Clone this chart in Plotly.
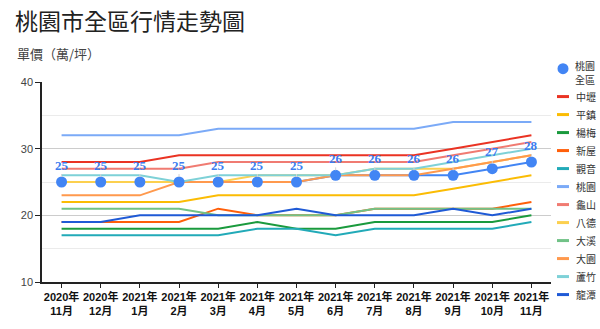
import plotly.graph_objects as go

months = ["2020年<br>11月", "2020年<br>12月", "2021年<br>1月", "2021年<br>2月", "2021年<br>3月",
          "2021年<br>4月", "2021年<br>5月", "2021年<br>6月", "2021年<br>7月", "2021年<br>8月",
          "2021年<br>9月", "2021年<br>10月", "2021年<br>11月"]

total_name = "桃園全區"
total_legend_lines = ["桃園", "全區"]
total_vals = [25, 25, 25, 25, 25, 25, 25, 26, 26, 26, 26, 27, 28]

zhongli = [28, 28, 28, 29, 29, 29, 29, 29, 29, 29, 30, 31, 32]
pingzhen = [22, 22, 22, 22, 23, 23, 23, 23, 23, 23, 24, 25, 26]
yangmei = [18, 18, 18, 18, 18, 19, 18, 18, 19, 19, 19, 19, 20]
xinwu = [19, 19, 19, 19, 21, 20, 20, 20, 21, 21, 21, 21, 22]
guanyin = [17, 17, 17, 17, 17, 18, 18, 17, 18, 18, 18, 18, 19]
taoyuan = [32, 32, 32, 32, 33, 33, 33, 33, 33, 33, 34, 34, 34]
guishan = [27, 27, 27, 27, 28, 28, 28, 28, 28, 28, 29, 30, 31]
bade = [25, 25, 25, 25, 25, 26, 26, 26, 27, 27, 27, 28, 29]
daxi = [21, 21, 21, 21, 20, 20, 20, 20, 21, 21, 21, 21, 21]
dayuan = [23, 23, 23, 25, 25, 25, 25, 26, 26, 26, 27, 28, 29]
luzhu = [26, 26, 26, 25, 26, 26, 26, 26, 27, 27, 28, 29, 30]
longtan = [19, 19, 20, 20, 20, 20, 21, 20, 20, 20, 21, 20, 21]

district_names = ["中壢", "平鎮", "楊梅", "新屋", "觀音", "桃園", "龜山", "八德", "大溪", "大園", "蘆竹", "龍潭"]
district_vals = [zhongli, pingzhen, yangmei, xinwu, guanyin, taoyuan, guishan, bade, daxi, dayuan, luzhu, longtan]
district_colors = ["#ea3323", "#fbbc04", "#1a9a3d", "#ff5f0a", "#22aab8", "#7baaf7",
                   "#f07b72", "#fcd04f", "#71c287", "#ff994d", "#7ed1d7", "#1f5ad6"]
total_color = "#4285f4"

CJK = "Noto Sans CJK TC"

fig = go.Figure()
idx = list(range(len(months)))

# total line (under the district lines)
fig.add_trace(go.Scatter(x=idx, y=total_vals, mode="lines", line=dict(color=total_color, width=2),
                         showlegend=False, hoverinfo="skip"))
for name, vals, col in zip(district_names, district_vals, district_colors):
    fig.add_trace(go.Scatter(x=idx, y=vals, mode="lines", name=name,
                             line=dict(color=col, width=2), showlegend=False))
# total markers on top
fig.add_trace(go.Scatter(x=idx, y=total_vals, mode="markers", name=total_name,
                         marker=dict(color=total_color, size=11), showlegend=False))

annotations = []
for i, v in zip(idx, total_vals):
    annotations.append(dict(x=i, y=v, xref="x", yref="y", text=str(v), showarrow=True,
                            arrowhead=0, arrowwidth=1, arrowcolor="#d5d5d5", ax=0, ay=-17,
                            standoff=5,
                            font=dict(family="Liberation Serif", size=13, color="#3b7cf0", weight="bold")))

# custom legend
L, R, T, B = 42, 49, 82, 37
W, H = 600, 329
pw, ph = W - L - R, H - T - B
def px2x(px):
    return (px - L) / pw
def py2y(py):
    return (H - B - py) / ph

leg_font = dict(family=CJK, size=10, color="#333333")
shapes = [dict(type="circle", xref="paper", yref="paper",
               xsizemode="pixel", ysizemode="pixel", xanchor=px2x(563), yanchor=py2y(68),
               x0=-5.5, x1=5.5, y0=-5.5, y1=5.5, fillcolor=total_color, line=dict(width=0))]
for j, part in enumerate(total_legend_lines):
    annotations.append(dict(x=px2x(574), y=py2y(64.5 + j * 15), xref="paper", yref="paper", text=part,
                            showarrow=False, xanchor="left", yanchor="middle", font=leg_font,
                            borderpad=0))
for k, (name, col) in enumerate(zip(district_names, district_colors)):
    py = 97.3 + k * 18.9
    shapes.append(dict(type="line", xref="paper", yref="paper", x0=px2x(557), x1=px2x(569),
                       y0=py2y(py), y1=py2y(py), line=dict(color=col, width=3)))
    annotations.append(dict(x=px2x(574), y=py2y(py), xref="paper", yref="paper", text=name,
                            showarrow=False, xanchor="left", yanchor="middle", font=leg_font))

# subtitle
annotations.append(dict(x=px2x(15), y=py2y(52), xref="paper", yref="paper", text="單價（萬/坪）",
                        showarrow=False, xanchor="left", yanchor="middle",
                        font=dict(family=CJK, size=13, color="#444444")))

fig.update_layout(
    width=W, height=H,
    margin=dict(l=L, r=R, t=T, b=B),
    paper_bgcolor="white", plot_bgcolor="white",
    title=dict(text="桃園市全區行情走勢圖", x=15 / W, xref="container", xanchor="left",
               y=1 - 22 / H, yref="container", yanchor="middle",
               font=dict(family=CJK, size=23, color="#222222")),
    xaxis=dict(range=[-0.5, len(months) - 0.5], tickvals=idx, ticktext=months,
               showgrid=False, zeroline=False, showline=True, linecolor="#222222", linewidth=1.5,
               ticks="outside", ticklen=4, tickcolor="#222222", tickwidth=1.2,
               tickfont=dict(family="Liberation Sans, " + CJK, size=11, color="#111111", weight="bold")),
    yaxis=dict(range=[10, 40], tickvals=[10, 20, 30, 40], showgrid=True, gridcolor="#cccccc",
               zeroline=False, showline=True, linecolor="#222222", linewidth=1.5,
               ticks="outside", ticklen=5, tickcolor="#222222", tickwidth=1.2,
               tickfont=dict(family="Liberation Sans", size=11, color="#444444"),
               minor=dict(tickvals=[15, 25, 35], showgrid=True, gridcolor="#ebebeb", ticks="")),
    xaxis2=dict(overlaying="x", anchor="y", range=[-0.5, len(months) - 0.5], tickvals=idx,
                showticklabels=False, showgrid=False, zeroline=False, showline=False,
                ticks="inside", ticklen=4, tickcolor="#222222", tickwidth=1.2),
    yaxis2=dict(overlaying="y", anchor="x", side="left", range=[10, 40], tickvals=[10, 20, 30, 40],
                showticklabels=False, showgrid=False, zeroline=False, showline=False,
                ticks="inside", ticklen=5, tickcolor="#222222", tickwidth=1.2),
    annotations=annotations,
    shapes=shapes,
)

fig.write_html("out.html")
